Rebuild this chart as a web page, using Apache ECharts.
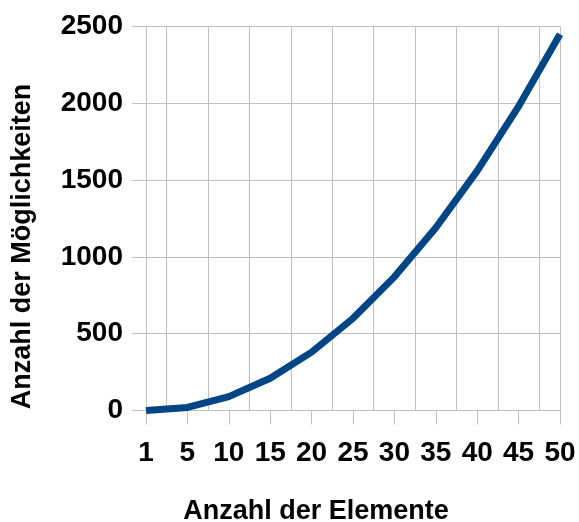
<!DOCTYPE html>
<html>
<head>
<meta charset="utf-8">
<script src="https://cdn.jsdelivr.net/npm/echarts@6/dist/echarts.min.js"></script>
<style>
  html, body { margin: 0; padding: 0; background: #fff; }
  #chart { width: 579px; height: 522px; }
</style>
</head>
<body>
<div id="chart"></div>
<script>
const elements = ['1', '5', '10', '15', '20', '25', '30', '35', '40', '45', '50'];
const possibilities = [0, 20, 90, 210, 380, 600, 870, 1190, 1560, 1980, 2450];
// half steps, only used to put the vertical grid lines between the categories
const gridSteps = ['1', '', '5', '', '10', '', '15', '', '20', '', '25', '', '30', '', '35', '', '40', '', '45', '', '50'];

const gridColor = '#c0c0c0';
const font = '"Liberation Sans", Arial, sans-serif';

const chart = echarts.init(document.getElementById('chart'), null, { renderer: 'canvas' });

chart.setOption({
  animation: false,
  grid: {
    left: 146,
    right: 19,
    top: 26.5,
    bottom: 111.5,
    containLabel: false,
    outerBoundsMode: 'none'
  },
  xAxis: [
    {
      type: 'category',
      data: elements,
      boundaryGap: false,
      name: 'Anzahl der Elemente',
      nameLocation: 'middle',
      nameGap: 88,
      nameTextStyle: {
        color: '#000',
        fontSize: 27,
        fontWeight: 'bold',
        fontFamily: font,
        padding: [0, 74, 0, 0]
      },
      axisLine: { show: true, lineStyle: { color: gridColor, width: 1 } },
      axisTick: { show: true, length: 14, alignWithLabel: true, lineStyle: { color: gridColor } },
      axisLabel: {
        color: '#000',
        fontSize: 28,
        fontWeight: 'bold',
        fontFamily: font,
        margin: 29,
        interval: 0
      },
      splitLine: { show: false }
    },
    {
      type: 'category',
      data: gridSteps,
      boundaryGap: false,
      position: 'bottom',
      axisLine: { show: false },
      axisTick: { show: false },
      axisLabel: { show: false },
      splitLine: {
        show: true,
        interval: (i) => i % 2 === 1 || i === 0 || i === gridSteps.length - 1,
        lineStyle: { color: gridColor, width: 1 }
      }
    }
  ],
  yAxis: {
    type: 'value',
    min: 0,
    max: 2500,
    interval: 500,
    name: 'Anzahl der Möglichkeiten',
    nameLocation: 'middle',
    nameGap: 110,
    nameTextStyle: {
      color: '#000',
      fontSize: 27,
      fontWeight: 'bold',
      fontFamily: font,
      padding: [0, 56, 0, 0]
    },
    axisLine: { show: false },
    axisTick: { show: true, length: 14, lineStyle: { color: gridColor } },
    axisLabel: {
      color: '#000',
      fontSize: 28,
      fontWeight: 'bold',
      fontFamily: font,
      margin: 23,
      formatter: (v) => String(v)
    },
    splitLine: { show: true, lineStyle: { color: gridColor, width: 1 } }
  },
  series: [
    {
      name: 'Möglichkeiten',
      type: 'line',
      xAxisIndex: 0,
      data: possibilities,
      showSymbol: false,
      smooth: false,
      lineStyle: { color: '#004586', width: 7, cap: 'butt' },
      itemStyle: { color: '#004586' }
    }
  ]
});
</script>
</body>
</html>
